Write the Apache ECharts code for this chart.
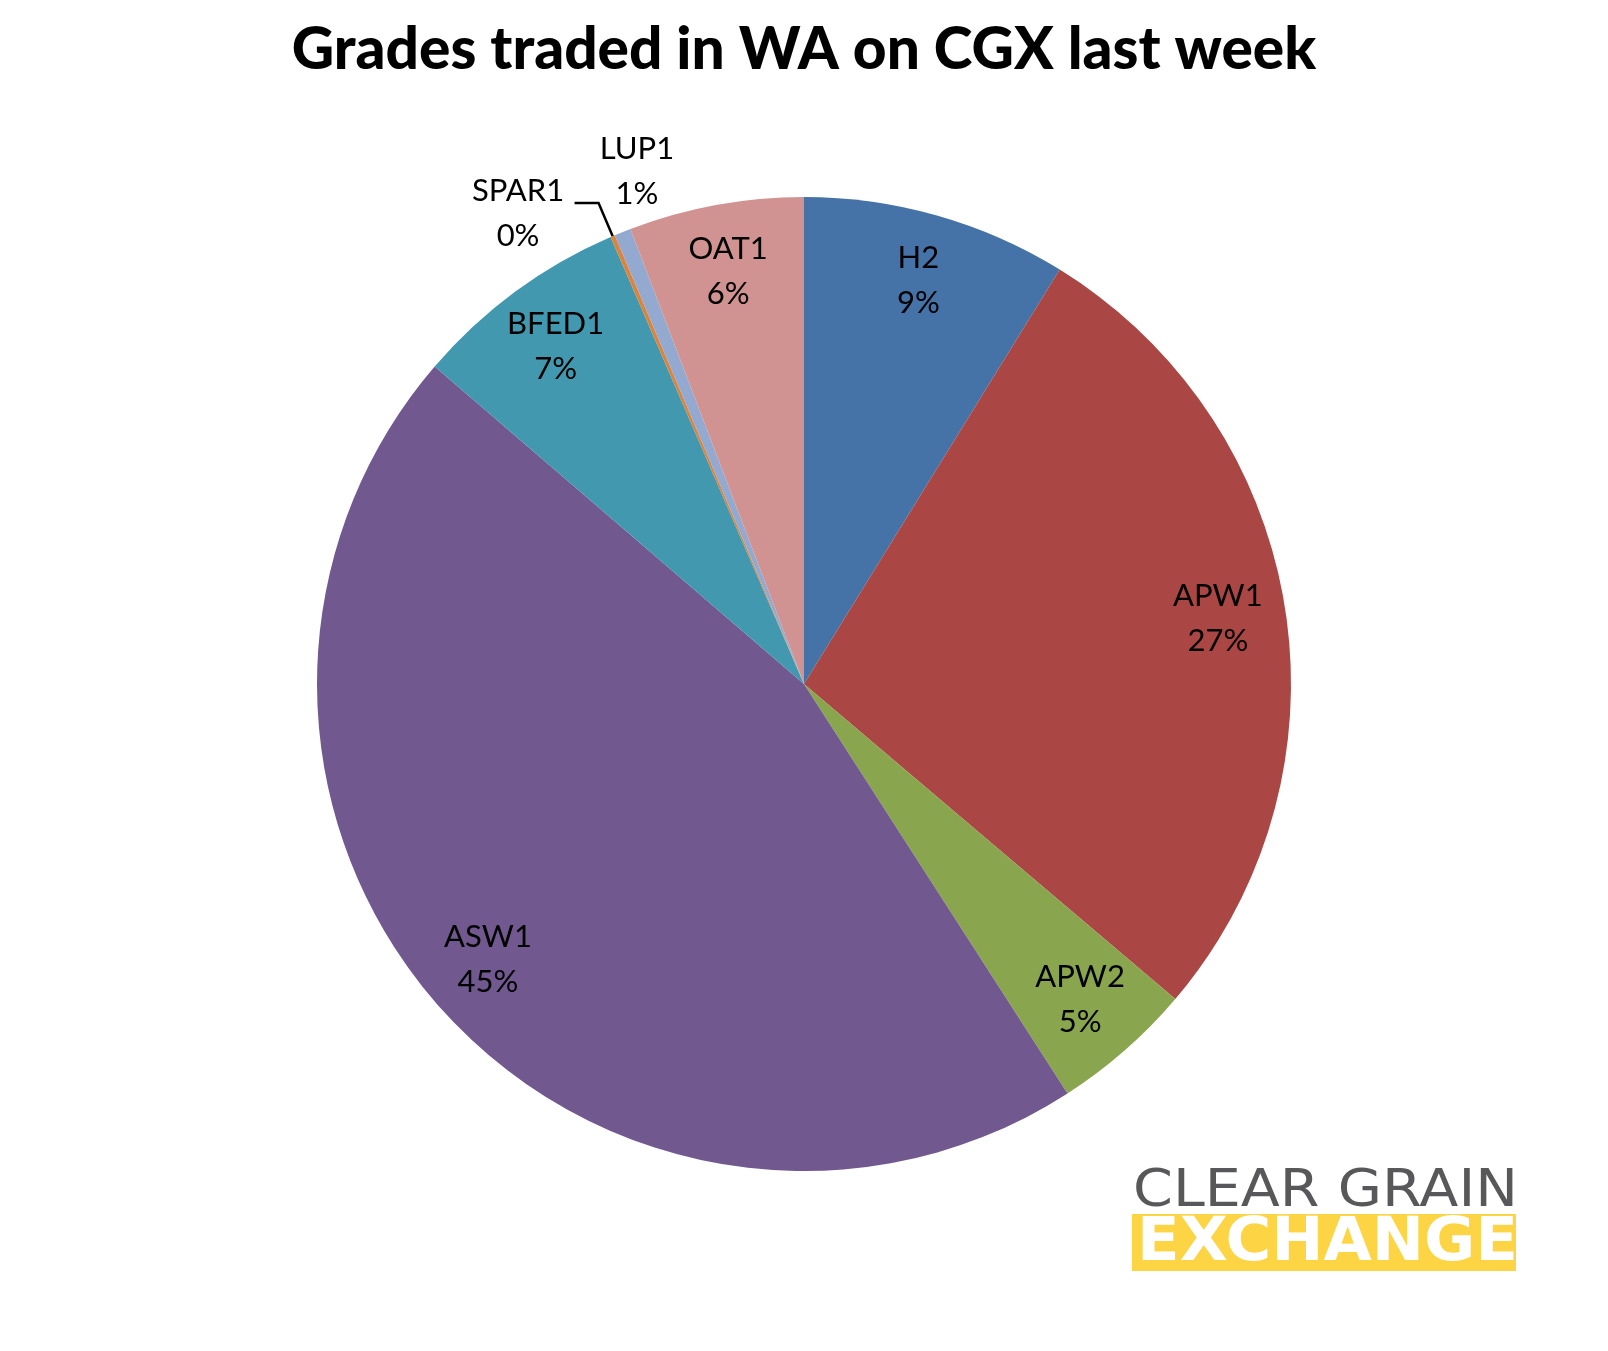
<!DOCTYPE html>
<html>
<head>
<meta charset="utf-8">
<script src="https://cdn.jsdelivr.net/npm/echarts@6/dist/echarts.min.js"></script>
<style>
    html, body { margin: 0; padding: 0; background: #fff; }
    #chart { width: 1608px; height: 1351px; }
</style>
</head>
<body>
<div id="chart"></div>
<script>
// grades and their share of trades (clockwise from 12 o'clock)
const grades = ['H2', 'APW1', 'APW2', 'ASW1', 'BFED1', 'SPAR1', 'LUP1', 'OAT1'];
const shares = [8.8, 27.4, 4.7, 45.4, 7.2, 0.15, 0.55, 5.8];
const colors = ['#4572A7', '#AA4643', '#89A54E', '#71588F', '#4198AF', '#DB843D', '#93A9CF', '#D19392'];

const chart = echarts.init(document.getElementById('chart'));

const center = [804, 684];
const R = 487;
const labelFont = { fontFamily: 'Lato', fontSize: 31, lineHeight: 45, color: '#000' };
const pct = p => Math.round(p.percent) + '%';

// pie slices
const sliceData = grades.map((g, i) => ({
    name: g,
    value: shares[i],
    itemStyle: { color: colors[i] }
}));

// labels sitting inside the pie (transparent ring so they land at ~0.85 r)
const innerLabelData = grades.map((g, i) => {
    let item = { name: g, value: shares[i] };
    if (g === 'SPAR1') item.label = { show: false };
    if (g === 'LUP1') item.label = { offset: [-11, -124] };
    return item;
});

// outside label with a leader line, only SPAR1
const outerLabelData = grades.map((g, i) => {
    let item = { name: g, value: shares[i], label: { show: false }, labelLine: { show: false } };
    if (g === 'SPAR1') {
        item.label = { show: true, offset: [-4, 10] };
        item.labelLine = { show: true };
    }
    return item;
});

let option = {
    backgroundColor: '#fff',
    animation: false,
    title: {
        text: 'Grades traded in WA on CGX last week',
        left: 'center',
        top: 16,
        textStyle: { fontFamily: 'Lato', fontWeight: 900, fontSize: 58.6, color: '#000' }
    },
    series: [
        {
            type: 'pie',
            center: center,
            radius: R,
            startAngle: 90,
            clockwise: true,
            silent: true,
            label: { show: false },
            labelLine: { show: false },
            data: sliceData
        },
        {
            type: 'pie',
            center: center,
            radius: [345, R],
            startAngle: 90,
            clockwise: true,
            silent: true,
            avoidLabelOverlap: false,
            itemStyle: { color: 'rgba(0,0,0,0)' },
            label: Object.assign({
                show: true,
                position: 'inside',
                formatter: p => p.name + '\n' + pct(p)
            }, labelFont),
            labelLine: { show: false },
            data: innerLabelData
        },
        {
            type: 'pie',
            center: center,
            radius: R,
            startAngle: 90,
            clockwise: true,
            silent: true,
            avoidLabelOverlap: false,
            itemStyle: { color: 'rgba(0,0,0,0)' },
            label: {
                position: 'outside',
                formatter: p => '{c|' + p.name + '}\n{c|' + pct(p) + '}',
                rich: {
                    c: Object.assign({ width: 95, align: 'center' }, labelFont)
                }
            },
            labelLine: {
                length: 36,
                length2: 24,
                lineStyle: { color: '#000', width: 2.5 }
            },
            data: outerLabelData
        }
    ],
    graphic: [
        {
            type: 'text',
            x: 1133,
            y: 1193,
            scaleX: 1.12,
            style: { text: 'CLEAR GRAIN', fontFamily: 'DejaVu Sans', fontSize: 51, fill: '#58585A', verticalAlign: 'middle' }
        },
        {
            type: 'rect',
            shape: { x: 1132, y: 1214, width: 384, height: 57 },
            style: { fill: '#FDD443' }
        },
        {
            type: 'text',
            x: 1137,
            y: 1244,
            scaleX: 1.04,
            style: { text: 'EXCHANGE', fontFamily: 'DejaVu Sans', fontWeight: 'bold', fontSize: 60, fill: '#fff', verticalAlign: 'middle' }
        }
    ]
};

chart.setOption(option);
</script>
</body>
</html>
